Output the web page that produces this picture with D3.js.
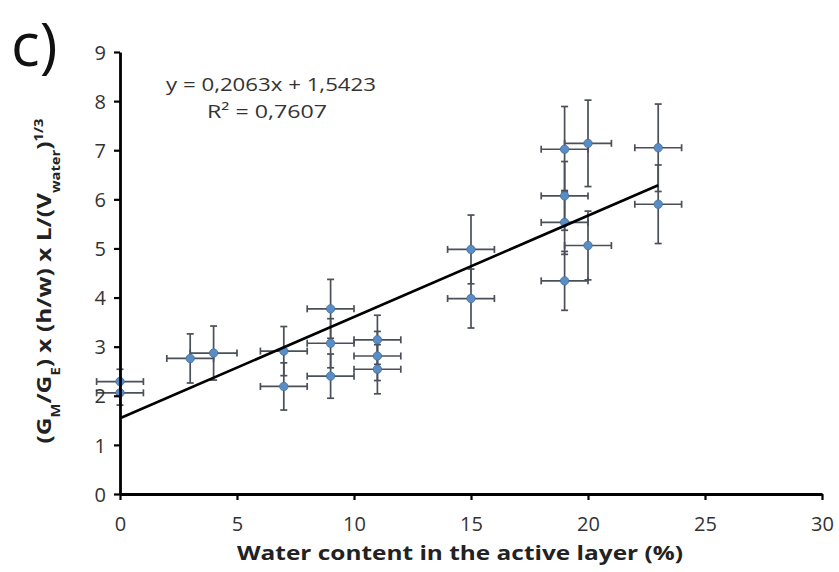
<!DOCTYPE html>
<html>
<head>
<meta charset="utf-8">
<script src="https://cdn.jsdelivr.net/npm/d3@7"></script>
<style>
  html, body { margin: 0; padding: 0; background: #fff; }
  svg { display: block; }
  text { font-family: "Open Sans", "DejaVu Sans", sans-serif; }
</style>
</head>
<body>
<svg id="chart" width="839" height="572"></svg>
<script>
// ---- data ----
const xValues  = [0, 0, 3, 4, 7, 7, 9, 9, 9, 11, 11, 11, 15, 15, 19, 19, 19, 19, 20, 20, 23, 23];
const yValues  = [2.29, 2.06, 2.76, 2.87, 2.91, 2.19, 3.77, 3.07, 2.40, 3.14, 2.81, 2.54, 4.98, 3.98, 7.02, 6.07, 5.53, 4.34, 7.14, 5.06, 7.05, 5.90];
const yErrors  = [0.25, 0.25, 0.50, 0.55, 0.50, 0.48, 0.60, 0.50, 0.45, 0.50, 0.50, 0.50, 0.70, 0.60, 0.87, 0.70, 0.65, 0.60, 0.88, 0.70, 0.89, 0.80];
const xErrors  = [1, 1, 1, 1, 1, 1, 1, 1, 1, 1, 1, 1, 1, 1, 1, 1, 1, 1, 1, 1, 1, 1];
const xTicks   = [0, 5, 10, 15, 20, 25, 30];
const yTicks   = [0, 1, 2, 3, 4, 5, 6, 7, 8, 9];
const slope = 0.2063, intercept = 1.5423, r2 = "0,7607";
const trendRange = [0, 23];

const svg = d3.select("#chart");
const m = { left: 120, right: 822, top: 52, bottom: 494 };
const x = d3.scaleLinear().domain([0, 30]).range([m.left, m.right]);
const y = d3.scaleLinear().domain([0, 9]).range([m.bottom, m.top]);

// error bars
const errColor = "#4a4f58";
const g = svg.append("g");
const pts = xValues.map((v, i) => ({ x: v, y: yValues[i], ex: xErrors[i], ey: yErrors[i] }));
const cap = 3.5;
pts.forEach(p => {
  g.append("line").attr("x1", x(p.x - p.ex)).attr("x2", x(p.x + p.ex))
    .attr("y1", y(p.y)).attr("y2", y(p.y)).attr("stroke", errColor).attr("stroke-width", 1.7);
  [p.x - p.ex, p.x + p.ex].forEach(v => g.append("line").attr("x1", x(v)).attr("x2", x(v))
    .attr("y1", y(p.y) - cap).attr("y2", y(p.y) + cap).attr("stroke", errColor).attr("stroke-width", 1.7));
  g.append("line").attr("x1", x(p.x)).attr("x2", x(p.x))
    .attr("y1", y(p.y - p.ey)).attr("y2", y(p.y + p.ey)).attr("stroke", errColor).attr("stroke-width", 1.7);
  [p.y - p.ey, p.y + p.ey].forEach(v => g.append("line").attr("x1", x(p.x) - cap).attr("x2", x(p.x) + cap)
    .attr("y1", y(v)).attr("y2", y(v)).attr("stroke", errColor).attr("stroke-width", 1.7));
});

// markers
g.selectAll("circle").data(pts).enter().append("circle")
  .attr("cx", d => x(d.x)).attr("cy", d => y(d.y)).attr("r", 4.2)
  .attr("fill", "#5a8cc6").attr("stroke", "#42709f").attr("stroke-width", 0.8);

// trendline
svg.append("line")
  .attr("x1", x(trendRange[0])).attr("y1", y(slope * trendRange[0] + intercept))
  .attr("x2", x(trendRange[1])).attr("y2", y(slope * trendRange[1] + intercept))
  .attr("stroke", "#000").attr("stroke-width", 2.6);

// axes
const xAxis = svg.append("g").attr("transform", `translate(0,${m.bottom})`)
  .call(d3.axisBottom(x).tickValues(xTicks).tickSize(6).tickSizeOuter(0).tickFormat(d3.format("d")));
const yAxis = svg.append("g").attr("transform", `translate(${m.left},0)`)
  .call(d3.axisLeft(y).tickValues(yTicks).tickSize(6).tickSizeOuter(0).tickFormat(d3.format("d")));
[xAxis, yAxis].forEach(a => {
  a.attr("font-size", null).attr("font-family", null);
  a.select(".domain").attr("stroke", "#000").attr("stroke-width", 2.8);
  a.selectAll(".tick line").attr("stroke", "#000").attr("stroke-width", 2.2);
  a.selectAll(".tick text").attr("fill", "#333").style("font-size", "20px");
});
xAxis.selectAll(".tick text").attr("dy", "0").attr("y", 37);
yAxis.selectAll(".tick text").attr("x", -14).attr("dy", "0.36em");

// x axis title
svg.append("text").attr("x", 460).attr("y", 560)
  .attr("text-anchor", "middle").attr("fill", "#222")
  .attr("textLength", 446).attr("lengthAdjust", "spacingAndGlyphs")
  .style("font-size", "20px").style("font-weight", "bold")
  .text("Water content in the active layer (%)");

// y axis title
const yt = svg.append("text").attr("transform", "translate(51,281) rotate(-90)")
  .attr("text-anchor", "middle").attr("fill", "#222")
  .attr("textLength", 325).attr("lengthAdjust", "spacingAndGlyphs")
  .style("font-size", "20px").style("font-weight", "bold");
yt.append("tspan").text("(G");
yt.append("tspan").attr("baseline-shift", "sub").style("font-size", "12px").text("M");
yt.append("tspan").text("/G");
yt.append("tspan").attr("baseline-shift", "sub").style("font-size", "12px").text("E");
yt.append("tspan").text(") x (h/w) x L/(V");
yt.append("tspan").attr("baseline-shift", "sub").style("font-size", "12px").text("water");
yt.append("tspan").text(")");
yt.append("tspan").attr("baseline-shift", "super").style("font-size", "12px").text("1/3");

// panel label
svg.append("text").attr("x", 11).attr("y", 66).attr("fill", "#111")
  .style("font-size", "60px").text("c)");

// equation
svg.append("text").attr("x", 271).attr("y", 91).attr("text-anchor", "middle")
  .attr("fill", "#333").style("font-size", "18px")
  .attr("textLength", 210).attr("lengthAdjust", "spacingAndGlyphs")
  .text(`y = ${String(slope).replace(".", ",")}x + ${String(intercept).replace(".", ",")}`);
svg.append("text").attr("x", 267).attr("y", 118).attr("text-anchor", "middle")
  .attr("fill", "#333").style("font-size", "18px")
  .attr("textLength", 120).attr("lengthAdjust", "spacingAndGlyphs")
  .text(`R² = ${r2}`);
</script>
</body>
</html>
